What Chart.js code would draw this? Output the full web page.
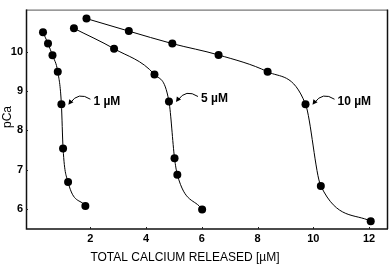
<!DOCTYPE html>
<html><head><meta charset="utf-8">
<script src="https://cdn.jsdelivr.net/npm/chart.js@4/dist/chart.umd.min.js"></script>
<style>html,body{margin:0;padding:0;background:#fff}#wrap{width:392px;height:266px}</style>
</head><body><div id="wrap"><canvas id="c"></canvas></div>
<script>
const seriesLabels = ["1 µM", "5 µM", "10 µM"];
const x1 = [0.30, 0.48, 0.64, 0.83, 0.96, 1.02, 1.20, 1.82];
const y1 = [10.51, 10.22, 9.92, 9.50, 8.67, 7.54, 6.68, 6.07];
const x5 = [1.41, 2.85, 4.30, 4.82, 5.02, 5.12, 6.01];
const y5 = [10.61, 10.09, 9.43, 8.74, 7.29, 6.87, 5.98];
const x10 = [1.86, 3.38, 4.94, 6.60, 8.36, 9.72, 10.27, 12.06];
const y10 = [10.86, 10.54, 10.22, 9.93, 9.50, 8.67, 6.58, 5.68];
const labelIndex = [4, 3, 5];
const xTicks = [2, 4, 6, 8, 10, 12];
const yTicks = [6, 7, 8, 9, 10];
const xTitle = "TOTAL CALCIUM RELEASED [µM]";
const yTitle = "pCa";

const toPts = (xs, ys) => xs.map((x, i) => ({x, y: ys[i]}));
const FONT = "Arial, 'Liberation Sans', sans-serif";

const mk = (xs, ys, lab) => ({
  label: lab, data: toPts(xs, ys),
  borderColor: '#000', backgroundColor: '#000', borderWidth: 1,
  pointRadius: 4, pointBorderWidth: 0, showLine: true,
  cubicInterpolationMode: 'monotone'
});

const deco = {
  id: 'deco',
  afterDraw(chart) {
    const ctx = chart.ctx, a = chart.chartArea;
    const xs = chart.scales.x, ys = chart.scales.y;
    ctx.save();
    ctx.strokeStyle = '#555'; ctx.lineWidth = 1;
    ctx.beginPath();
    ctx.moveTo(a.left, a.top + 0.5); ctx.lineTo(a.right, a.top + 0.5);
    ctx.stroke();
    ctx.strokeStyle = '#111'; ctx.lineWidth = 1.5;
    ctx.beginPath();
    ctx.moveTo(a.left + 0.5, a.top); ctx.lineTo(a.left + 0.5, a.bottom);
    ctx.lineTo(a.right, a.bottom); ctx.stroke();
    ctx.beginPath();
    ctx.moveTo(a.right - 0.5, a.top); ctx.lineTo(a.right - 0.5, a.bottom); ctx.stroke();
    ctx.lineWidth = 1; ctx.strokeStyle = '#222';
    xTicks.forEach(v => { const px = Math.round(xs.getPixelForValue(v)) + 0.5;
      ctx.beginPath(); ctx.moveTo(px, a.bottom); ctx.lineTo(px, a.bottom - 2); ctx.stroke(); });
    yTicks.forEach(v => { const py = Math.round(ys.getPixelForValue(v)) + 0.5;
      ctx.beginPath(); ctx.moveTo(a.left, py); ctx.lineTo(a.left + 2, py); ctx.stroke(); });
    ctx.fillStyle = '#000';
    ctx.font = '12px ' + FONT;
    ctx.textAlign = 'center'; ctx.textBaseline = 'middle';
    ctx.fillText(xTitle, 185, 258);
    ctx.save(); ctx.translate(8, 117); ctx.rotate(-Math.PI / 2);
    ctx.fillText(yTitle, 0, 0); ctx.restore();
    ctx.font = 'bold 12px ' + FONT;
    chart.data.datasets.forEach((ds, di) => {
      const p = ds.data[labelIndex[di]];
      const px = xs.getPixelForValue(p.x), py = ys.getPixelForValue(p.y);
      ctx.textAlign = 'left';
      ctx.fillText(seriesLabels[di], px + 32, py - 3);
      const sx = px + 29, sy = py - 5, cx = px + 17, cy = py - 13, ex = px + 7, ey = py + 0.5;
      ctx.beginPath(); ctx.moveTo(sx, sy); ctx.quadraticCurveTo(cx, cy, ex + 2, ey - 2);
      ctx.strokeStyle = '#000'; ctx.lineWidth = 1; ctx.stroke();
      const ang = Math.atan2(ey - cy, ex - cx);
      const L = 5, W = 2.6;
      ctx.beginPath();
      ctx.moveTo(ex, ey);
      ctx.lineTo(ex - L * Math.cos(ang) + W * Math.sin(ang), ey - L * Math.sin(ang) - W * Math.cos(ang));
      ctx.lineTo(ex - L * Math.cos(ang) - W * Math.sin(ang), ey - L * Math.sin(ang) + W * Math.cos(ang));
      ctx.closePath(); ctx.fill();
    });
    ctx.restore();
  }
};

new Chart(document.getElementById('c'), {
  type: 'scatter',
  data: { datasets: [mk(x1, y1, seriesLabels[0]), mk(x5, y5, seriesLabels[1]), mk(x10, y10, seriesLabels[2])] },
  options: {
    responsive: true, maintainAspectRatio: false, animation: false,
    layout: { padding: { top: 3, right: 3, left: 0, bottom: 0 } },
    plugins: { legend: { display: false }, tooltip: { enabled: false } },
    scales: {
      x: {
        type: 'linear', min: -0.31, max: 12.68,
        afterBuildTicks: s => { s.ticks = xTicks.map(v => ({value: v})); },
        afterFit: s => { s.height = 37; },
        grid: { display: false, drawTicks: false }, border: { display: false },
        ticks: { color: '#000', font: { family: FONT, size: 11, weight: 'bold' }, padding: 3, maxRotation: 0 }
      },
      y: {
        type: 'linear', min: 5.48, max: 11.09,
        afterBuildTicks: s => { s.ticks = yTicks.map(v => ({value: v})); },
        afterFit: s => { s.width = 26; },
        grid: { display: false, drawTicks: false }, border: { display: false },
        ticks: { color: '#000', font: { family: FONT, size: 11, weight: 'bold' }, padding: 3 }
      }
    }
  },
  plugins: [deco]
});
</script></body></html>
